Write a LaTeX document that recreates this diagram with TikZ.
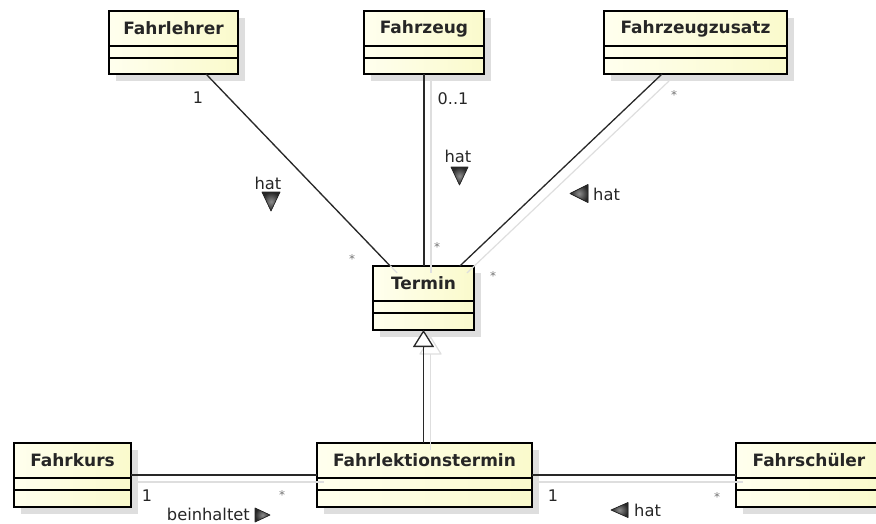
\documentclass[tikz,border=0pt]{standalone}
\usepackage{fontspec}
\setmainfont{DejaVu Sans}
\usetikzlibrary{fit,calc,arrows.meta}

\definecolor{classA}{RGB}{255,255,238}
\definecolor{classB}{RGB}{250,250,204}
\definecolor{shadowgray}{RGB}{222,222,222}
\definecolor{linkgray}{RGB}{40,40,40}

\tikzset{
  x=1pt, y=-1pt,
  classframe/.style={draw=black, line width=2.6pt, inner sep=0pt, outer sep=0pt,
    left color=classA, right color=classB},
  classshadow/.style={fill=shadowgray},
  classtitle/.style={font=\bfseries\fontsize{17}{19}\selectfont, text=black!85},
  sepline/.style={draw=black, line width=1.4pt},
  assoc/.style={draw=linkgray, line width=1.3pt},
  linkshadow/.style={draw=black!13, line width=1.2pt,
    transform canvas={xshift=7pt, yshift=-7pt}},
  general/.style={draw=linkgray, line width=1.3pt,
    -{Triangle[open, width=21pt, length=17pt, line width=1.3pt, fill=white]}},
  rolelabel/.style={font=\fontsize{16}{18}\selectfont, text=black!85, inner sep=0pt},
  manylabel/.style={font=\fontsize{12}{14}\selectfont, text=black!55, inner sep=0pt},
  namelabel/.style={font=\fontsize{16.3}{18}\selectfont, text=black!85, inner sep=0pt},
  dirmark/.style={draw=black!85, line width=0.7pt, line join=round,
    inner color=black!45, outer color=black!85},
}

% class box: name, left, top, right, bottom, title
\newcommand{\classbox}[6]{%
  \fill[classshadow] (#2+7,#3+7) rectangle (#4+7,#5+7);
  \node[classframe, fit={(#2,#3) (#4,#5)}] (#1) {};
  \draw[sepline] (#2,#3+35) -- (#4,#3+35);
  \draw[sepline] (#2,#3+47) -- (#4,#3+47);
  \node[classtitle] (#1-title) at ({(#2+#4)/2},{#3+17.5}) {#6};
}

\begin{document}
\begin{tikzpicture}
\useasboundingbox (0,0) rectangle (876,523);
\clip (0,0) rectangle (876,523);

% classes
\classbox{fahrlehrer}{109}{11}{238}{74}{Fahrlehrer}
\classbox{fahrzeug}{364}{11}{484}{74}{Fahrzeug}
\classbox{zusatz}{604}{11}{787}{74}{Fahrzeugzusatz}
\classbox{termin}{373}{266}{474}{330}{Termin}
\classbox{fahrkurs}{14}{443}{131}{507}{Fahrkurs}
\classbox{lektion}{317}{443}{532}{507}{Fahrlektionstermin}
\classbox{schueler}{736}{443}{882}{507}{Fahrschüler}

% end points on the class borders
\coordinate (fl-s) at ($(fahrlehrer.south west)!0.752!(fahrlehrer.south east)$);
\coordinate (fz-s) at (fahrzeug.south);
\coordinate (zs-s) at ($(zusatz.south west)!0.317!(zusatz.south east)$);
\coordinate (t-a) at ($(termin.north west)!0.17!(termin.north east)$);
\coordinate (t-b) at (fahrzeug.south |- termin.north);
\coordinate (t-c) at ($(termin.north west)!0.86!(termin.north east)$);
\coordinate (lk-n) at (termin.south |- lektion.north);
\coordinate (tri-l) at ($(termin.south)+(-10.5,17)$);
\coordinate (tri-r) at ($(termin.south)+(10.5,17)$);
\coordinate (tri-b) at ($(termin.south)+(0,17)$);

% faint drop shadows of the links
\draw[linkshadow] (fl-s) -- (t-a);
\draw[linkshadow] (fz-s) -- (t-b);
\draw[linkshadow] (zs-s) -- (t-c);
\draw[linkshadow] (fahrkurs.east) -- (lektion.west);
\draw[linkshadow] (lektion.east) -- (schueler.west);
\draw[linkshadow] (lk-n) -- (tri-b);
\draw[linkshadow, line join=round] (termin.south) -- (tri-l) -- (tri-r) -- cycle;

% associations
\draw[assoc] (fl-s) -- (t-a);
\draw[assoc] (fz-s) -- (t-b);
\draw[assoc] (zs-s) -- (t-c);
\draw[assoc] (fahrkurs.east) -- (lektion.west);
\draw[assoc] (lektion.east) -- (schueler.west);

% generalization
\draw[general] (lk-n) -- (termin.south);

% multiplicities
\node[rolelabel] (m1) at (198,98) {1};
\node[manylabel] (m2) at (352,259) {*};
\node[rolelabel] (m3) at (453,99) {0..1};
\node[manylabel] (m4) at (437,247) {*};
\node[manylabel] (m5) at (674,95) {*};
\node[manylabel] (m6) at (493,276) {*};
\node[rolelabel] (m7) at (147,496) {1};
\node[manylabel] (m8) at (282,495) {*};
\node[rolelabel] (m9) at (553,496) {1};
\node[manylabel] (m10) at (717,497) {*};

% association names with reading direction
\node[namelabel] (n1) at (268,183) {hat};
\fill[dirmark] (262,192) -- (280,192) -- (271,211) -- cycle;

\node[namelabel] (n2) at (458,156) {hat};
\fill[dirmark] (451,167) -- (468,167) -- (459.5,185) -- cycle;

\node[namelabel, anchor=west] (n3) at (593,194) {hat};
\fill[dirmark] (570,193.5) -- (588,184.5) -- (588,202.5) -- cycle;

\node[namelabel, anchor=east] (n4) at (250,514) {beinhaltet};
\fill[dirmark] (255,508) -- (270,515) -- (255,522) -- cycle;

\node[namelabel, anchor=west] (n5) at (634,510) {hat};
\fill[dirmark] (611,510) -- (628,502.5) -- (628,517.5) -- cycle;
\end{tikzpicture}
\end{document}
